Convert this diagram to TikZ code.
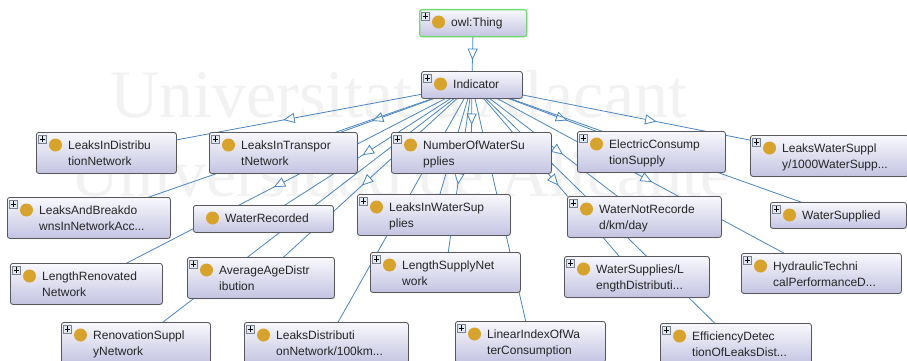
\documentclass[tikz,border=0pt]{standalone}
\usepackage{fontspec}
\setmainfont{Liberation Sans}
\newfontfamily\wmfont{Liberation Serif}
\usetikzlibrary{decorations.markings,shadows}

\definecolor{edgeblue}{RGB}{74,134,194}
\definecolor{boxtop}{RGB}{248,248,253}
\definecolor{boxbot}{RGB}{196,196,226}
\definecolor{boxborder}{RGB}{88,88,92}
\definecolor{classdot}{RGB}{216,163,44}
\definecolor{thinggreen}{RGB}{112,220,112}
\definecolor{plusfill}{RGB}{226,232,240}
\definecolor{plusborder}{RGB}{120,130,145}
\definecolor{wmgray}{RGB}{242,242,242}
\definecolor{labeltext}{RGB}{38,38,38}

\pgfdeclarelayer{paper}
\pgfdeclarelayer{edges}
\pgfsetlayers{paper,edges,main}

\tikzset{
  clsbox/.style={draw=boxborder, line width=0.8pt, rounded corners=2.5pt,
    top color=boxtop, bottom color=boxbot, anchor=north west, inner sep=0pt,
    drop shadow={shadow xshift=0.8pt, shadow yshift=-0.8pt, opacity=0.22}},
  rootbox/.style={clsbox, draw=thinggreen, line width=1.3pt},
  classdotstyle/.style={circle, fill=classdot, minimum size=13pt, inner sep=0pt},
  plusbox/.style={draw=plusborder, fill=plusfill, line width=0.5pt,
    minimum size=8pt, inner sep=0pt,
    path picture={\draw[black, line width=0.7pt]
      (path picture bounding box.center) +(-2.6pt,0) -- +(2.6pt,0)
      (path picture bounding box.center) +(0,-2.6pt) -- +(0,2.6pt);}},
  lbl/.style={anchor=base west, inner sep=0pt, text=labeltext,
    font=\fontsize{12}{14}\selectfont},
  isa/.style={draw=edgeblue, line width=0.8pt, postaction={decorate},
    decoration={markings, mark=at position 0.5 with {
      \draw[edgeblue, fill=white, line width=0.8pt]
        (5pt,0pt) -- (-5pt,4.5pt) -- (-5pt,-4.5pt) -- cycle;}}},
}

% class box with one text line: name, x, y, width, height, text
\newcommand{\clsone}[6]{%
  \node[clsbox, minimum width=#4pt, minimum height=#5pt] (#1) at (#2,#3) {};
  \node[classdotstyle] (#1-dot) at ([shift={(19.5,13)}]#1.north west) {};
  \node[lbl] (#1-l1) at ([shift={(32,17.5)}]#1.north west) {#6};
}
% class box with two text lines
\newcommand{\clstwo}[7]{%
  \clsone{#1}{#2}{#3}{#4}{#5}{#6}%
  \node[lbl] (#1-l2) at ([shift={(32,33.5)}]#1.north west) {#7};
}
% expand handle in the upper left corner of a class box
\newcommand{\expander}[1]{%
  \node[plusbox] (#1-plus) at ([shift={(6.5,7)}]#1.north west) {};
}

\begin{document}
\begin{tikzpicture}[x=1pt,y=-1pt]
\useasboundingbox (0,0) rectangle (907,361);

\begin{pgfonlayer}{paper}
  \fill[white] (0,0) rectangle (907,361);
  \node[anchor=base west, inner sep=0pt, text=wmgray,
        font=\wmfont\fontsize{68}{68}\selectfont] (wm1) at (110,117) {Universitat d'Alacant};
  \node[anchor=base west, inner sep=0pt, text=wmgray,
        font=\wmfont\fontsize{68}{68}\selectfont] (wm2) at (70,196) {Universidad de Alicante};
\end{pgfonlayer}

% root and the Indicator class
\node[rootbox, minimum width=107pt, minimum height=27pt] (thing) at (419,9) {};
\node[classdotstyle] (thing-dot) at ([shift={(19.5,13)}]thing.north west) {};
\node[lbl] (thing-l1) at ([shift={(32,17.5)}]thing.north west) {owl:Thing};
\expander{thing}

\clsone{ind}{421}{71}{101}{27}{Indicator}\expander{ind}

% first row
\clstwo{ldn}{36}{132}{140}{41}{LeaksInDistribu}{tionNetwork}\expander{ldn}
\clstwo{ltn}{209}{132}{148}{41}{LeaksInTranspor}{tNetwork}\expander{ltn}
\clstwo{nws}{391}{132}{160}{41}{NumberOfWaterSu}{pplies}\expander{nws}
\clstwo{ecs}{577}{131}{148}{41}{ElectricConsump}{tionSupply}\expander{ecs}
\clstwo{lwsk}{750}{135}{158}{41}{LeaksWaterSuppl}{y/1000WaterSupp...}\expander{lwsk}

% second row
\clstwo{lab}{7}{197}{163}{41}{LeaksAndBreakdo}{wnsInNetworkAcc...}\expander{lab}
\clsone{wr}{193}{205}{140}{27}{WaterRecorded}
\clstwo{lws}{357}{194}{153}{41}{LeaksInWaterSup}{plies}\expander{lws}
\clstwo{wnr}{567}{196}{154}{41}{WaterNotRecorde}{d/km/day}\expander{wnr}
\clsone{wsp}{770}{202}{136}{26}{WaterSupplied}\expander{wsp}

% third row
\clstwo{lrn}{10}{263}{152}{41}{LengthRenovated}{Network}\expander{lrn}
\clstwo{aad}{187}{257}{147}{41}{AverageAgeDistr}{ibution}\expander{aad}
\clstwo{lsn}{370}{252}{150}{40}{LengthSupplyNet}{work}\expander{lsn}
\clstwo{wsl}{564}{256}{145}{41}{WaterSupplies/L}{engthDistributi...}\expander{wsl}
\clstwo{htp}{741}{253}{160}{40}{HydraulicTechni}{calPerformanceD...}\expander{htp}

% fourth row
\clstwo{rsn}{61}{322}{149}{41}{RenovationSuppl}{yNetwork}\expander{rsn}
\clstwo{ldk}{244}{322}{164}{41}{LeaksDistributi}{onNetwork/100km...}\expander{ldk}
\clstwo{lic}{455}{321}{150}{41}{LinearIndexOfWa}{terConsumption}\expander{lic}
\clstwo{edl}{660}{323}{151}{41}{EfficiencyDetec}{tionOfLeaksDist...}\expander{edl}

% subclass links, drawn centre to centre beneath the boxes
\begin{pgfonlayer}{edges}
  \path[isa] (thing.center) -- (ind.center);
  \foreach \c in {ldn,ltn,nws,ecs,lwsk,lab,wr,lws,wnr,wsp,lrn,aad,lsn,wsl,htp,rsn,ldk,lic,edl}
    \path[isa] (ind.center) -- (\c.center);
\end{pgfonlayer}
\end{tikzpicture}
\end{document}
